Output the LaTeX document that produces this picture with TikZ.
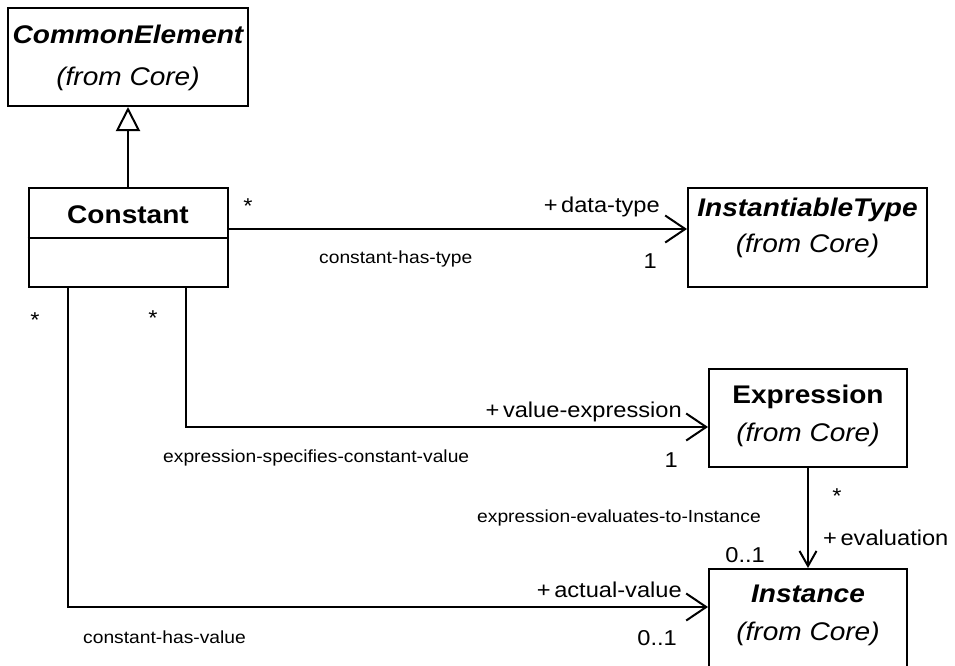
\documentclass[tikz,border=0pt]{standalone}
\usepackage{fontspec}
\setmainfont{Liberation Sans}[FakeStretch=1.1]
\usetikzlibrary{arrows.meta}
\begin{document}
\begin{tikzpicture}[x=1pt,y=-1pt,
  umlbox/.style={draw, line width=2pt, inner sep=0pt},
  titleabs/.style={anchor=base, inner sep=0pt, font=\fontsize{25.5}{30}\selectfont\bfseries\itshape},
  titleplain/.style={anchor=base, inner sep=0pt, font=\fontsize{25.5}{30}\selectfont\bfseries},
  fromcore/.style={anchor=base, inner sep=0pt, font=\fontsize{25.5}{30}\selectfont\itshape},
  role/.style={anchor=base east, inner sep=0pt, font=\fontsize{21.5}{25}\selectfont},
  rolew/.style={anchor=base west, inner sep=0pt, font=\fontsize{21.5}{25}\selectfont},
  mult/.style={anchor=base, inner sep=0pt, font=\fontsize{21.5}{25}\selectfont},
  assocname/.style={anchor=base west, inner sep=0pt, font=\fontsize{17.5}{20}\selectfont},
  assoc/.style={line width=2pt, -{Straight Barb[length=20pt,width=27pt]}},
  assocv/.style={line width=2pt, -{Straight Barb[length=15pt,width=17pt]}},
  gen/.style={line width=2pt, -{Triangle[open,length=24pt,width=24pt]}}
]
\useasboundingbox (0,0) rectangle (955,665);

% boxes
\node[umlbox, minimum width=240pt, minimum height=98pt] (common) at (128,57) {};
\node[umlbox, minimum width=199pt, minimum height=99pt] (constant) at (128,237.5) {};
\node[umlbox, minimum width=239pt, minimum height=99pt] (insttype) at (807.5,237.5) {};
\node[umlbox, minimum width=198pt, minimum height=98pt] (expr) at (808,418) {};
\node[umlbox, minimum width=198pt, minimum height=99pt] (instance) at (808,618.5) {};

% compartment separator
\draw[line width=2pt] (constant.west) -- (constant.east);

% box texts
\node[titleabs] (commonT) at (128,43) {CommonElement};
\node[fromcore] (commonF) at (128,85) {(from Core)};
\node[titleplain] (constantT) at (128,223) {Constant};
\node[titleabs] (insttypeT) at (807.5,216) {InstantiableType};
\node[fromcore] (insttypeF) at (807.5,252) {(from Core)};
\node[titleplain] (exprT) at (808,403) {Expression};
\node[fromcore] (exprF) at (808,441) {(from Core)};
\node[titleabs] (instanceT) at (808,602) {Instance};
\node[fromcore] (instanceF) at (808,640) {(from Core)};

% generalization
\draw[gen] (constant.north) -- (common.south);

% associations
\draw[assoc] ([yshift=8.5pt]constant.east) -- ([yshift=8.5pt]insttype.west);
\draw[assoc] ([xshift=58pt]constant.south) |- ([yshift=-9pt]expr.west);
\draw[assoc] ([xshift=-60pt]constant.south) |- ([yshift=11.5pt]instance.west);
\draw[assocv] (expr.south) -- (instance.north);

% labels: constant-has-type
\node[mult] (m1) at (248,213) {*};
\node[role] (r1) at (660,212) {+\,data-type};
\node[assocname] (a1) at (319,263) {constant-has-type};
\node[role] (m2) at (657,268) {1};

% expression-specifies-constant-value
\node[mult] (m3) at (153,325) {*};
\node[role] (r2) at (682,417) {+\,value-expression};
\node[assocname] (a2) at (163,462) {expression-specifies-constant-value};
\node[role] (m4) at (678,467) {1};

% constant-has-value
\node[mult] (m5) at (35,327) {*};
\node[role] (r3) at (682,597) {+\,actual-value};
\node[assocname] (a3) at (83,643) {constant-has-value};
\node[role] (m6) at (677,645) {0..1};

% expression-evaluates-to-Instance
\node[mult] (m7) at (837,503) {*};
\node[assocname] (a4) at (477,522) {expression-evaluates-to-Instance};
\node[rolew] (r4) at (823,545) {+\,evaluation};
\node[role] (m8) at (765,562) {0..1};
\end{tikzpicture}
\end{document}
